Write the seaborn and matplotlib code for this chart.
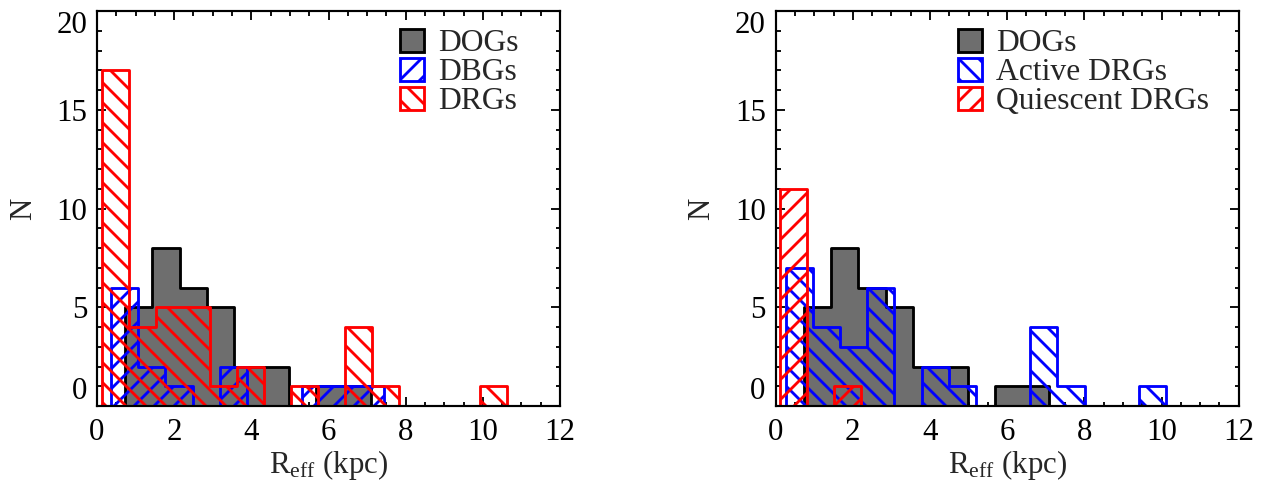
import numpy as np
import pandas as pd
import matplotlib
matplotlib.use("Agg")
import matplotlib.pyplot as plt
import seaborn as sns
from matplotlib.patches import Patch
from matplotlib.ticker import MultipleLocator

# ---------------- data ----------------
# histogram counts per bin, with the bin origin and bin width of each series (kpc)
dog_counts = [5, 8, 6, 5, 2, 2, 0, 1, 1]
dog_bin_start, dog_bin_width = 0.73, 0.707

dbg_counts = [6, 2, 1, 0, 2, 0, 0, 1, 1, 1]
dbg_bin_start, dbg_bin_width = 0.355, 0.708

drg_counts = [17, 4, 5, 5, 1, 2, 0, 1, 0, 4, 1, 0, 0, 0, 1]
drg_bin_start, drg_bin_width = 0.12, 0.70

active_drg_counts = [7, 4, 3, 6, 0, 2, 1, 0, 0, 4, 1, 0, 0, 1]
active_bin_start, active_bin_width = 0.26, 0.704

quiescent_drg_counts = [11, 0, 1]
quiescent_bin_start, quiescent_bin_width = 0.12, 0.70

left_labels = ["DOGs", "DBGs", "DRGs"]
right_labels = ["DOGs", "Active DRGs", "Quiescent DRGs"]
x_ticks = [0, 2, 4, 6, 8, 10, 12]
y_ticks = [0, 5, 10, 15, 20]
x_label = r"R$_{\rm eff}$ (kpc)"
y_label = "N"

# ---------------- style ----------------
sns.set_style("ticks")
plt.rcParams.update({
    "font.family": ["Liberation Serif", "DejaVu Serif"],
    "mathtext.fontset": "custom",
    "mathtext.rm": "Liberation Serif",
    "mathtext.it": "Liberation Serif:italic",
    "axes.linewidth": 1.3,
    "hatch.linewidth": 1.7,
    "xtick.direction": "in",
    "ytick.direction": "in",
    "xtick.top": True,
    "ytick.right": True,
    "xtick.major.size": 5.5,
    "ytick.major.size": 5.5,
    "xtick.minor.size": 2.7,
    "ytick.minor.size": 2.7,
    "xtick.major.width": 1.1,
    "ytick.major.width": 1.1,
    "xtick.minor.width": 1.1,
    "ytick.minor.width": 1.1,
    "xtick.color": "black",
    "ytick.color": "black",
    "axes.edgecolor": "black",
    "xtick.labelsize": 18.5,
    "ytick.labelsize": 18.5,
})

GRAY = "#6e6e6e"
BLUE = "#0000ff"
RED = "#ff0000"
NOFILL = (1, 1, 1, 0)
LW = 1.7

DPI = 120
fig = plt.figure(figsize=(1275 / DPI, 491 / DPI), dpi=DPI)
ax1 = fig.add_axes([97 / 1275, 85 / 491, 463 / 1275, 395 / 491])
ax2 = fig.add_axes([775.7 / 1275, 85 / 491, 463 / 1275, 395 / 491])


def draw_hist(ax, counts, start, width, face, edge, hatch):
    edges = [start + width * i for i in range(len(counts) + 1)]
    centers = [e + width / 2 for e in edges[:-1]]
    df = pd.DataFrame({"reff": centers, "n": counts})
    with plt.rc_context({"hatch.color": edge}):
        sns.histplot(data=df, x="reff", weights="n", bins=edges,
                     element="step", fill=True, color=edge, facecolor=face,
                     edgecolor=edge, hatch=hatch, linewidth=LW,
                     alpha=1, ax=ax)
    coll = ax.collections[-1]
    coll.set_facecolor(face)
    coll.set_edgecolor(edge)
    coll.set_linewidth(LW)
    if hatch:
        coll.set_hatch(hatch)


# left panel
draw_hist(ax1, dog_counts, dog_bin_start, dog_bin_width, GRAY, "black", None)
draw_hist(ax1, dbg_counts, dbg_bin_start, dbg_bin_width, NOFILL, BLUE, "//")
draw_hist(ax1, drg_counts, drg_bin_start, drg_bin_width, NOFILL, RED, "\\\\")

# right panel
draw_hist(ax2, dog_counts, dog_bin_start, dog_bin_width, GRAY, "black", None)
draw_hist(ax2, active_drg_counts, active_bin_start, active_bin_width, NOFILL, BLUE, "\\\\")
draw_hist(ax2, quiescent_drg_counts, quiescent_bin_start, quiescent_bin_width, NOFILL, RED, "//")

left_handles = [
    Patch(facecolor=GRAY, edgecolor="black", linewidth=LW),
    Patch(facecolor="none", edgecolor=BLUE, hatch="//", linewidth=LW),
    Patch(facecolor="none", edgecolor=RED, hatch="\\\\", linewidth=LW),
]
right_handles = [
    Patch(facecolor=GRAY, edgecolor="black", linewidth=LW),
    Patch(facecolor="none", edgecolor=BLUE, hatch="\\\\", linewidth=LW),
    Patch(facecolor="none", edgecolor=RED, hatch="//", linewidth=LW),
]

for ax, handles, labels, lx in [(ax1, left_handles, left_labels, 0.654),
                                (ax2, right_handles, right_labels, 0.394)]:
    ax.set_xlim(0, 12)
    ax.set_ylim(0, 20)
    ax.set_xticks(x_ticks)
    ax.set_yticks(y_ticks)
    ax.xaxis.set_minor_locator(MultipleLocator(0.5))
    ax.yaxis.set_minor_locator(MultipleLocator(1))
    ax.tick_params(axis="x", which="major", pad=7)
    ax.tick_params(axis="y", which="major", pad=6)
    ax.set_xlabel(x_label, fontsize=18.5, labelpad=1)
    ax.set_ylabel(y_label, fontsize=18.5, labelpad=11)
    for s in ax.spines.values():
        s.set_visible(True)
        s.set_zorder(5)
    yt = ax.yaxis.get_major_ticks()
    yt[0].label1.set_verticalalignment("bottom")
    yt[-1].label1.set_verticalalignment("top")
    ax.legend(handles, labels, loc="upper left", bbox_to_anchor=(lx, 0.955),
              frameon=False, fontsize=19, handlelength=0.75, handleheight=0.75,
              handletextpad=0.45, labelspacing=-0.02, borderpad=0,
              borderaxespad=0)

fig.savefig("out.png", dpi=DPI)
